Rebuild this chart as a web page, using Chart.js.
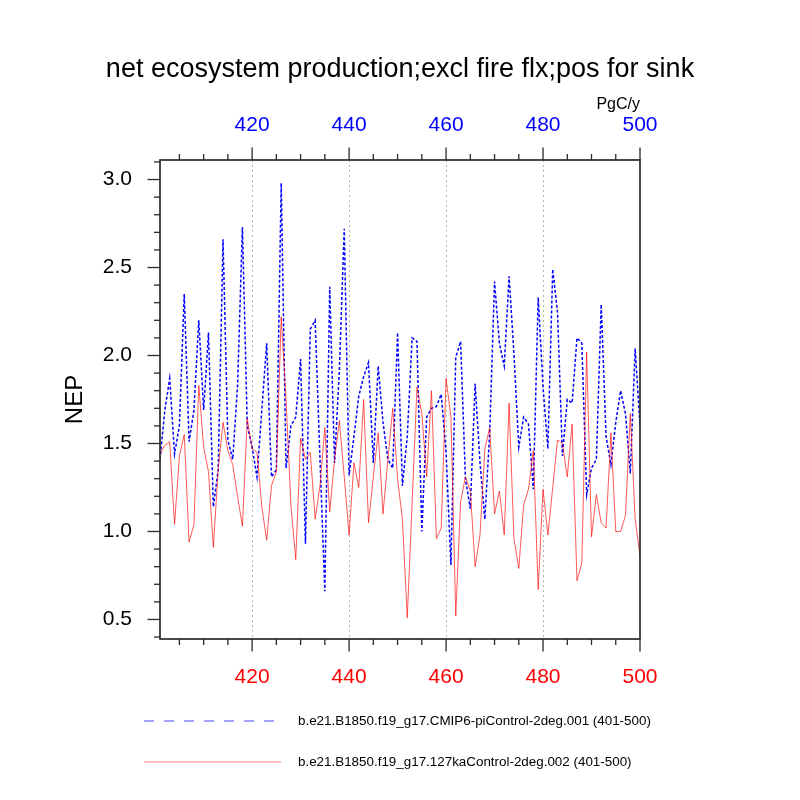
<!DOCTYPE html>
<html>
<head>
<meta charset="utf-8">
<title>NEP</title>
<script src="https://cdn.jsdelivr.net/npm/chart.js@4.4.1/dist/chart.umd.min.js"></script>
<style>
  body { margin: 0; background: #fff; }
  canvas { display: block; }
</style>
</head>
<body>
<canvas id="nepChart" width="800" height="800"></canvas>
<script>
// model years on the x axis
const years = [
  401, 402, 403, 404, 405, 406, 407, 408, 409, 410,
  411, 412, 413, 414, 415, 416, 417, 418, 419, 420,
  421, 422, 423, 424, 425, 426, 427, 428, 429, 430,
  431, 432, 433, 434, 435, 436, 437, 438, 439, 440,
  441, 442, 443, 444, 445, 446, 447, 448, 449, 450,
  451, 452, 453, 454, 455, 456, 457, 458, 459, 460,
  461, 462, 463, 464, 465, 466, 467, 468, 469, 470,
  471, 472, 473, 474, 475, 476, 477, 478, 479, 480,
  481, 482, 483, 484, 485, 486, 487, 488, 489, 490,
  491, 492, 493, 494, 495, 496, 497, 498, 499, 500
];

// NEP (PgC/y), CMIP6 piControl run
const nepPiControl = [
  1.41, 1.69, 1.87, 1.44, 1.60, 2.35, 1.51, 1.69, 2.20, 1.69,
  2.13, 1.14, 1.35, 2.66, 1.52, 1.41, 1.83, 2.73, 1.60, 1.48,
  1.31, 1.69, 2.07, 1.31, 1.35, 2.98, 1.36, 1.60, 1.65, 1.98,
  0.93, 2.15, 2.20, 1.41, 0.66, 2.39, 1.39, 1.92, 2.72, 1.32,
  1.54, 1.77, 1.88, 1.96, 1.39, 1.94, 1.62, 1.41, 1.36, 2.13,
  1.26, 1.54, 2.10, 2.08, 1.00, 1.65, 1.70, 1.71, 1.78, 1.45,
  0.81, 1.99, 2.08, 1.30, 1.13, 1.84, 1.39, 1.07, 1.56, 2.42,
  2.07, 1.94, 2.45, 2.01, 1.48, 1.65, 1.61, 1.24, 2.33, 1.82,
  1.47, 2.49, 2.24, 1.43, 1.75, 1.73, 2.10, 2.07, 1.21, 1.36,
  1.41, 2.29, 1.54, 1.38, 1.62, 1.80, 1.67, 1.33, 2.04, 1.60
];

// NEP (PgC/y), 127ka control run
const nep127ka = [
  1.44, 1.49, 1.51, 1.04, 1.43, 1.55, 0.94, 1.04, 1.83, 1.48,
  1.34, 0.91, 1.35, 1.62, 1.46, 1.38, 1.20, 1.03, 1.64, 1.47,
  1.45, 1.14, 0.95, 1.26, 1.34, 2.22, 1.75, 1.15, 0.84, 1.53,
  1.41, 1.45, 1.07, 1.26, 1.59, 1.11, 1.41, 1.63, 1.31, 0.98,
  1.39, 1.25, 1.75, 1.05, 1.31, 1.56, 1.10, 1.41, 1.70, 1.30,
  1.07, 0.51, 1.16, 1.82, 1.67, 1.31, 1.80, 0.96, 1.02, 1.87,
  1.65, 0.52, 1.17, 1.31, 1.23, 0.80, 0.98, 1.47, 1.59, 1.10,
  1.23, 0.98, 1.73, 0.96, 0.79, 1.15, 1.24, 1.46, 0.67, 1.24,
  0.98, 1.25, 1.52, 1.50, 1.31, 1.61, 0.72, 0.82, 2.02, 0.97,
  1.21, 1.05, 1.02, 1.56, 1.00, 1.00, 1.09, 1.67, 1.07, 0.86
];

const seriesNames = [
  'b.e21.B1850.f19_g17.CMIP6-piControl-2deg.001 (401-500)',
  'b.e21.B1850.f19_g17.127kaControl-2deg.002 (401-500)'
];

const xTickLabels = [420, 440, 460, 480, 500];
const yTickLabels = [0.5, 1.0, 1.5, 2.0, 2.5, 3.0];

const FONT = '"Liberation Sans", Arial, Helvetica, sans-serif';
const BLUE = '#0000ff';
const RED = 'rgba(255, 0, 0, 0.65)';

// NCL-like frame: border, major/minor tickmarks, grid, title, legend
const nclFrame = {
  id: 'nclFrame',
  beforeDatasetsDraw(chart) {
    const { ctx, chartArea: a, scales } = chart;
    ctx.save();
    ctx.strokeStyle = '#b4b4b4';
    ctx.lineWidth = 1;
    ctx.setLineDash([2, 3]);
    xTickLabels.forEach(v => {
      if (v >= 500) return;
      const px = Math.round(scales.x.getPixelForValue(v)) + 0.5;
      ctx.beginPath();
      ctx.moveTo(px, a.top);
      ctx.lineTo(px, a.bottom);
      ctx.stroke();
    });
    ctx.restore();
  },
  afterDraw(chart) {
    const { ctx, chartArea: a, scales } = chart;
    ctx.save();
    ctx.strokeStyle = '#2a2a2a';
    ctx.lineWidth = 1.3;
    ctx.setLineDash([]);

    // x tickmarks, bottom and top, pointing outward
    for (let v = 405; v <= 500; v += 5) {
      const px = scales.x.getPixelForValue(v);
      const len = v % 20 === 0 ? 12.5 : 6;
      ctx.beginPath();
      ctx.moveTo(px, a.bottom);
      ctx.lineTo(px, a.bottom + len);
      ctx.moveTo(px, a.top);
      ctx.lineTo(px, a.top - len);
      ctx.stroke();
    }
    // y tickmarks on the left
    for (let i = 4; i <= 31; i++) {
      const v = i / 10;
      const py = scales.y.getPixelForValue(v);
      const len = i % 5 === 0 ? 12.5 : 6;
      ctx.beginPath();
      ctx.moveTo(a.left, py);
      ctx.lineTo(a.left - len, py);
      ctx.stroke();
    }

    // border
    ctx.lineWidth = 1.7;
    ctx.strokeRect(a.left, a.top, a.right - a.left, a.bottom - a.top);

    // title and units
    ctx.fillStyle = '#000';
    ctx.textBaseline = 'alphabetic';
    ctx.textAlign = 'center';
    ctx.font = '27px ' + FONT;
    ctx.fillText('net ecosystem production;excl fire flx;pos for sink', 400, 77);
    ctx.textAlign = 'right';
    ctx.font = '16px ' + FONT;
    ctx.fillText('PgC/y', a.right, 108.5);

    // legend
    ctx.textAlign = 'left';
    ctx.textBaseline = 'middle';
    ctx.font = '13.4px ' + FONT;

    ctx.strokeStyle = 'rgba(0, 0, 255, 0.6)';
    ctx.lineWidth = 1.2;
    ctx.setLineDash([10, 10]);
    ctx.beginPath();
    ctx.moveTo(144, 721);
    ctx.lineTo(276, 721);
    ctx.stroke();
    ctx.fillText(seriesNames[0], 298, 721);

    ctx.strokeStyle = 'rgba(255, 0, 0, 0.5)';
    ctx.lineWidth = 1.1;
    ctx.setLineDash([]);
    ctx.beginPath();
    ctx.moveTo(144, 762);
    ctx.lineTo(281, 762);
    ctx.stroke();
    ctx.fillText(seriesNames[1], 298, 762);

    ctx.restore();
  }
};

const nepCanvas = document.getElementById('nepChart');
const chart = new Chart(nepCanvas, {
  type: 'line',
  data: {
    labels: years,
    datasets: [{
      label: seriesNames[0],
      data: years.map((yr, i) => ({ x: yr, y: nepPiControl[i] })),
      borderColor: BLUE,
      borderWidth: 1.5,
      borderDash: [3, 2],
      pointRadius: 0,
      tension: 0,
      order: 1
    }, {
      label: seriesNames[1],
      data: years.map((yr, i) => ({ x: yr, y: nep127ka[i] })),
      borderColor: RED,
      borderWidth: 1,
      pointRadius: 0,
      tension: 0,
      order: 0
    }]
  },
  options: {
    responsive: false,
    animation: false,
    devicePixelRatio: 1,
    layout: { padding: { left: 0, right: 160, top: 0, bottom: 0 } },
    plugins: {
      legend: { display: false },
      title: { display: false },
      tooltip: { enabled: false }
    },
    scales: {
      x: {
        type: 'linear',
        position: 'bottom',
        min: 401,
        max: 500,
        afterBuildTicks: scale => { scale.ticks = xTickLabels.map(v => ({ value: v })); },
        afterFit: scale => { scale.height = 161; },
        grid: { display: false, drawTicks: false },
        border: { display: false },
        ticks: {
          color: '#ff0000',
          font: { family: FONT, size: 21 },
          padding: 26,
          maxRotation: 0,
          autoSkip: false
        }
      },
      xTop: {
        type: 'linear',
        position: 'top',
        min: 401,
        max: 500,
        afterBuildTicks: scale => { scale.ticks = xTickLabels.map(v => ({ value: v })); },
        afterFit: scale => { scale.height = 160; },
        grid: { display: false, drawTicks: false },
        border: { display: false },
        ticks: {
          color: '#0000ff',
          font: { family: FONT, size: 21 },
          padding: 22.5,
          maxRotation: 0,
          autoSkip: false
        }
      },
      y: {
        type: 'linear',
        position: 'left',
        min: 0.389,
        max: 3.111,
        afterBuildTicks: scale => { scale.ticks = yTickLabels.map(v => ({ value: v })); },
        afterFit: scale => { scale.width = 160; },
        grid: { display: false, drawTicks: false },
        border: { display: false },
        ticks: {
          color: '#000',
          font: { family: FONT, size: 21 },
          padding: 28,
          callback: v => Number(v).toFixed(1)
        },
        title: {
          display: true,
          text: 'NEP',
          color: '#000',
          font: { family: FONT, size: 24 },
          padding: { top: 61, bottom: 0 }
        }
      }
    }
  },
  plugins: [nclFrame]
});
</script>
</body>
</html>
